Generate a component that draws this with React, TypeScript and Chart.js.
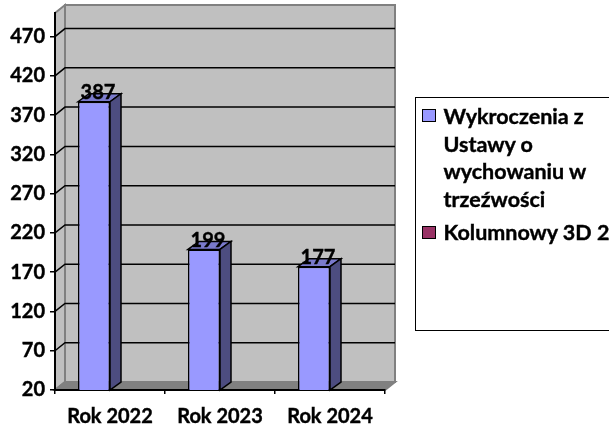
import React, { useEffect, useRef } from "react";
import { Chart, registerables } from "chart.js";

Chart.register(...registerables);

const categories = ["Rok 2022", "Rok 2023", "Rok 2024"];
const seriesA = [387, 199, 177];
const seriesB: (number | null)[] = [null, null, null];
const yTicks = [20, 70, 120, 170, 220, 270, 320, 370, 420, 470];
const seriesALegend = ["Wykroczenia z", "Ustawy o", "wychowaniu w", "trzeźwości"];
const seriesBLegend = "Kolumnowy 3D 2";
const FONT = "Lato, Carlito, sans-serif";
const WEIGHT = 700;
const DX = 10;
const DY = 8;

const wallsPlugin = {
  id: "walls",
  beforeDraw(chart: any) {
    const { ctx, chartArea: a, scales } = chart;
    const { left: l, right: r, top: t, bottom: b } = a;
    ctx.save();
    ctx.fillStyle = "#C0C0C0";
    ctx.strokeStyle = "#808080";
    ctx.lineWidth = 2;
    ctx.beginPath();
    ctx.moveTo(l, t);
    ctx.lineTo(l + DX, t - DY);
    ctx.lineTo(l + DX, b - DY);
    ctx.lineTo(l, b);
    ctx.closePath();
    ctx.fill();
    ctx.stroke();
    ctx.beginPath();
    ctx.rect(l + DX, t - DY, r - l, b - t);
    ctx.fill();
    ctx.stroke();
    ctx.fillStyle = "#808080";
    ctx.beginPath();
    ctx.moveTo(l, b);
    ctx.lineTo(l + DX, b - DY);
    ctx.lineTo(r + DX, b - DY);
    ctx.lineTo(r, b);
    ctx.closePath();
    ctx.fill();
    ctx.stroke();
    ctx.strokeStyle = "#000";
    ctx.lineWidth = 1.5;
    scales.y.ticks.forEach((tk: any) => {
      if (tk.value === scales.y.min) return;
      const y = scales.y.getPixelForValue(tk.value);
      ctx.beginPath();
      ctx.moveTo(l, y);
      ctx.lineTo(l + DX, y - DY);
      ctx.lineTo(r + DX, y - DY);
      ctx.stroke();
    });
    ctx.restore();
  },
  beforeDatasetsDraw(chart: any) {
    const { ctx } = chart;
    const b = chart.chartArea.bottom;
    ctx.save();
    ctx.strokeStyle = "#000";
    ctx.lineWidth = 1.5;
    chart.getDatasetMeta(0).data.forEach((bar: any) => {
      const x0 = bar.x - bar.width / 2;
      const x1 = bar.x + bar.width / 2;
      const y = bar.y;
      ctx.fillStyle = "#7A7ACC";
      ctx.beginPath();
      ctx.moveTo(x0, y);
      ctx.lineTo(x0 + DX + 1, y - DY);
      ctx.lineTo(x1 + DX + 1, y - DY);
      ctx.lineTo(x1, y);
      ctx.closePath();
      ctx.fill();
      ctx.stroke();
      ctx.fillStyle = "#4D4D80";
      ctx.beginPath();
      ctx.moveTo(x1, y);
      ctx.lineTo(x1 + DX + 1, y - DY);
      ctx.lineTo(x1 + DX + 1, b - DY);
      ctx.lineTo(x1, b);
      ctx.closePath();
      ctx.fill();
      ctx.stroke();
    });
    ctx.restore();
  },
  afterDatasetsDraw(chart: any) {
    const { ctx } = chart;
    ctx.save();
    ctx.fillStyle = "#000";
    ctx.strokeStyle = "#000";
    ctx.lineWidth = 0.4;
    ctx.font = `${WEIGHT} 20px ${FONT}`;
    ctx.textAlign = "center";
    ctx.textBaseline = "middle";
    chart.getDatasetMeta(0).data.forEach((bar: any, i: number) => {
      ctx.fillText(String(seriesA[i]), bar.x + 4, bar.y - 9);
      ctx.strokeText(String(seriesA[i]), bar.x + 4, bar.y - 9);
    });
    ctx.restore();
  },
};

export default function App() {
  const ref = useRef<HTMLCanvasElement>(null);
  useEffect(() => {
    const chart = new Chart(ref.current as HTMLCanvasElement, {
      type: "bar",
      data: {
        labels: categories,
        datasets: [
          {
            label: seriesALegend.join(" "),
            data: seriesA,
            backgroundColor: "#9999FF",
            borderColor: "#000",
            borderWidth: 1.5,
            barPercentage: 1,
            categoryPercentage: 0.582,
          },
          {
            label: seriesBLegend,
            data: seriesB as any,
            backgroundColor: "#993366",
            borderColor: "#000",
            borderWidth: 1.5,
            barPercentage: 1,
            categoryPercentage: 0.582,
          },
        ],
      },
      options: {
        animation: false,
        responsive: false,
        layout: { padding: { top: 13, right: 224, bottom: 0, left: 0 } },
        plugins: { legend: { display: false }, tooltip: { enabled: false } },
        scales: {
          x: {
            afterFit: (s: any) => { s.height = 37; s.paddingLeft = 0; s.paddingRight = 0; },
            grid: { drawOnChartArea: false, offset: true, color: "#000", lineWidth: 1.5, tickLength: 4 },
            border: { color: "#000", width: 2 },
            ticks: { color: "#000", textStrokeColor: "#000", textStrokeWidth: 0.4, font: { family: FONT, size: 20, weight: WEIGHT }, padding: 11, maxRotation: 0 },
          },
          y: {
            min: 20,
            max: 500,
            afterFit: (s: any) => { s.width = 55; s.paddingTop = 0; s.paddingBottom = 0; },
            afterBuildTicks: (s: any) => { s.ticks = yTicks.map((value) => ({ value })); },
            grid: { drawOnChartArea: false, color: "#000", lineWidth: 1.5, tickLength: 5 },
            border: { color: "#000", width: 2 },
            ticks: { color: "#000", textStrokeColor: "#000", textStrokeWidth: 0.4, font: { family: FONT, size: 20, weight: WEIGHT }, padding: 5 },
          },
        },
      } as any,
      plugins: [wallsPlugin],
    });
    return () => chart.destroy();
  }, []);

  const swatch = (c: string, top: number) => (
    <div style={{ position: "absolute", left: 6, top, width: 12, height: 11, background: c, border: "1.5px solid #000" }} />
  );

  return (
    <div style={{ position: "fixed", left: 0, top: 0, width: 609, height: 427, overflow: "hidden", background: "#fff" }}>
      <canvas ref={ref} width={609} height={427} style={{ display: "block" }} />
      <div style={{ position: "absolute", left: 415, top: 97, width: 220, height: 234, border: "1.5px solid #000", fontFamily: FONT, fontWeight: WEIGHT, fontSize: 21.5, WebkitTextStroke: "0.4px #000", color: "#000", boxSizing: "border-box" }}>
        {swatch("#9999FF", 10.5)}
        {seriesALegend.map((t, i) => (
          <div key={t} style={{ position: "absolute", left: 27.5, top: 6 + i * 27.5, lineHeight: "24px", whiteSpace: "nowrap" }}>{t}</div>
        ))}
        {swatch("#993366", 127.5)}
        <div style={{ position: "absolute", left: 27.5, top: 122, lineHeight: "24px", whiteSpace: "nowrap" }}>{seriesBLegend}</div>
      </div>
    </div>
  );
}
